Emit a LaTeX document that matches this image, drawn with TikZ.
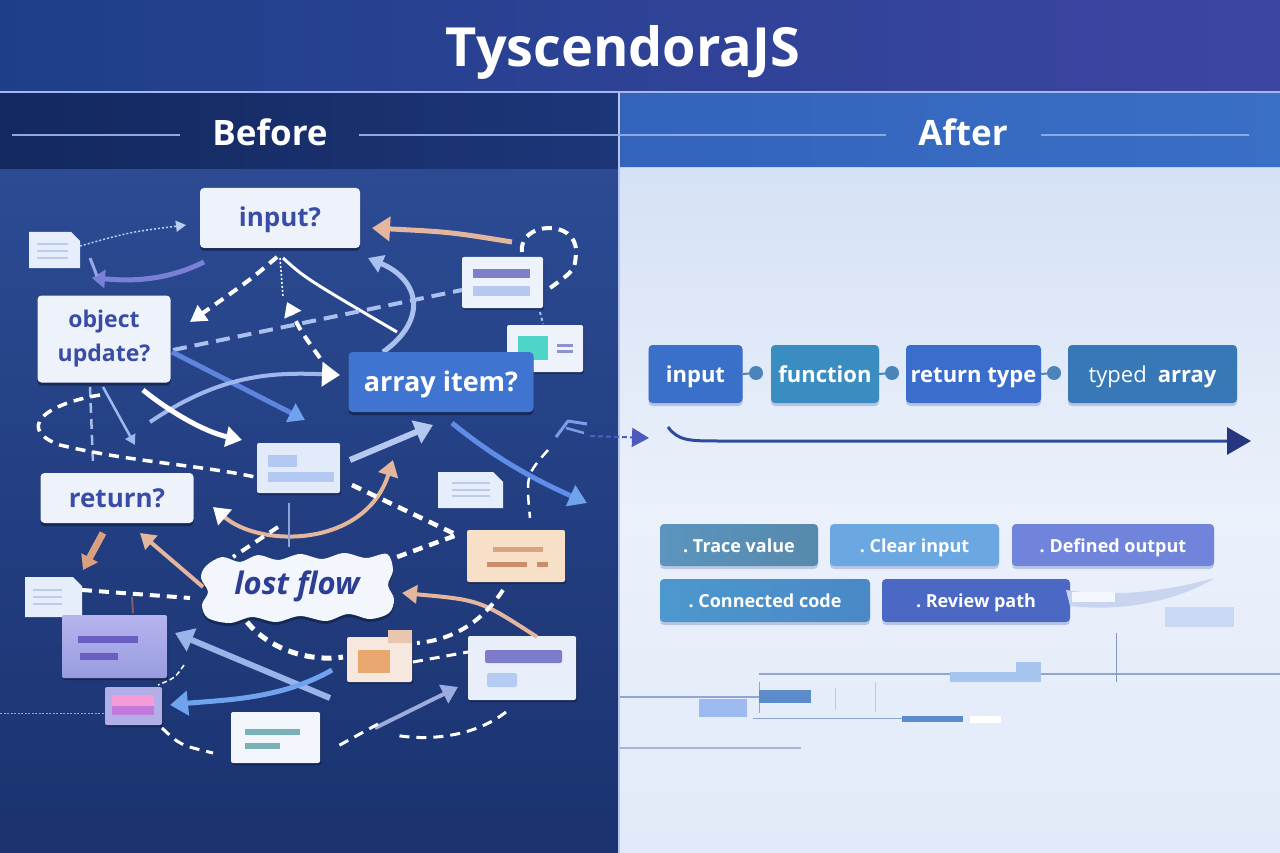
\documentclass[tikz,border=0pt]{standalone}
\usepackage{fontspec}
\setmainfont{Open Sans}
\usetikzlibrary{arrows.meta,shadows}
\definecolor{hdrL}{HTML}{1E3F88}
\definecolor{hdrR}{HTML}{3D45A3}
\definecolor{bandL}{HTML}{13285F}
\definecolor{bandR}{HTML}{1C3678}
\definecolor{leftT}{HTML}{2C4B93}
\definecolor{leftB}{HTML}{1A326F}
\definecolor{rbandL}{HTML}{3363BA}
\definecolor{rbandR}{HTML}{3A6FC6}
\definecolor{rightT}{HTML}{D5E1F5}
\definecolor{rightM}{HTML}{EBF1FB}
\definecolor{rightB}{HTML}{E2EAF9}
\definecolor{rulec}{HTML}{A3B8EF}
\definecolor{bandline}{HTML}{8EA8E4}
\definecolor{boxfill}{HTML}{EEF2FB}
\definecolor{cloudfill}{HTML}{F3F6FD}
\definecolor{boxtext}{HTML}{3A4DA6}
\definecolor{arrblue}{HTML}{3F74D0}
\definecolor{peach}{HTML}{E5B69E}
\definecolor{lblue}{HTML}{AAC0EE}
\definecolor{mblue}{HTML}{5E84DE}
\definecolor{sky}{HTML}{6FA3EE}
\definecolor{purp}{HTML}{7A80D8}
\definecolor{flowtext}{HTML}{2C3E96}
\definecolor{docfill}{HTML}{E6EDFB}
\definecolor{docline}{HTML}{BCCBEB}
\definecolor{dotc}{HTML}{4A84BA}
\definecolor{flowarrow}{HTML}{2F4C9C}
\definecolor{flowhead}{HTML}{26357E}
\definecolor{gline}{HTML}{8FA6D2}
\definecolor{linkc}{HTML}{4F5FC0}
\definecolor{linkh}{HTML}{4B5ABB}
\tikzset{
  qbox/.style={fill=boxfill, rounded corners=4pt, text=boxtext, inner sep=0pt,
    font=\bfseries\fontsize{26}{30}\selectfont, text height=24pt, text depth=6pt,
    drop shadow={opacity=0.35, shadow xshift=0pt, shadow yshift=-3pt, fill=black}},
  card/.style={rounded corners=2pt, inner sep=0pt,
    drop shadow={opacity=0.3, shadow xshift=1pt, shadow yshift=-2pt, fill=black}},
  rbox/.style={rounded corners=4pt, text=white, inner sep=0pt, minimum height=58pt,
    font=\bfseries\fontsize{22}{26}\selectfont, text height=21pt, text depth=4pt,
    drop shadow={opacity=0.25, shadow xshift=0pt, shadow yshift=-3pt, fill=flowarrow}},
  tagbox/.style={rounded corners=4pt, text=white, inner sep=0pt, minimum height=42pt,
    font=\bfseries\fontsize{18}{20}\selectfont, text height=17pt, text depth=3pt,
    drop shadow={opacity=0.25, shadow xshift=0pt, shadow yshift=-3pt, fill=flowarrow}},
  joint/.style={circle, fill=dotc, minimum size=14pt, inner sep=0pt},
  wdash/.style={draw=white, line width=#1, dash pattern=on 10pt off 7pt},
  wdash/.default=4pt,
  tipS/.style={-{Triangle[length=10pt,width=11pt]}},
  tipM/.style={-{Triangle[length=15pt,width=18pt]}},
  tipL/.style={-{Triangle[length=18pt,width=24pt]}},
}
\begin{document}
\begin{tikzpicture}[x=1pt,y=-1pt]
\useasboundingbox (0,0) rectangle (1280,853);
% ---------- backgrounds ----------
\shade[left color=hdrL, right color=hdrR] (0,0) rectangle (1280,92);
\shade[left color=bandL, right color=bandR] (0,93) rectangle (619,170);
\shade[left color=rbandL, right color=rbandR] (619,93) rectangle (1280,168);
\shade[top color=leftT, bottom color=leftB] (0,170) rectangle (619,853);
\shade[top color=rightT, bottom color=rightB, middle color=rightM] (619,168) rectangle (1280,853);
\draw[line width=2pt, rulec] (0,92) -- (1280,92);
\draw[line width=1pt, rulec!70] (619,168) -- (1280,168);
\draw[line width=1.5pt, rulec!80] (619,93) -- (619,853);
% ---------- header texts ----------
\node[anchor=base, text=white, font=\bfseries\fontsize{54}{60}\selectfont] (title) at (623,67) {TyscendoraJS};
\node[anchor=base, text=white, font=\bfseries\fontsize{35}{40}\selectfont] (before) at (270,146) {Before};
\node[anchor=base, text=white, font=\bfseries\fontsize{35}{40}\selectfont] (after) at (963,146) {After};
\draw[line width=2pt, bandline] (12,135) -- (180,135);
\draw[line width=2pt, bandline] (359,135) -- (886,135);
\draw[line width=2pt, bandline] (1041,135) -- (1249,135);

% ---------- left: small cards and docs ----------
\fill[docfill] (29,232) -- (71,232) -- (80,241) -- (80,268) -- (29,268) -- cycle;
\coordinate (d1) at (54,250);
\foreach \yy in {244,251,258} \draw[docline, line width=2pt] (37,\yy) -- (68,\yy);

\node[card, fill=boxfill, minimum width=81pt, minimum height=51pt] (c2) at (502.5,282.5) {};
\fill[color={rgb,255:red,123;green,128;blue,200}] (473,269) rectangle (530,278);
\fill[color={rgb,255:red,181;green,200;blue,240}] (473,286) rectangle (530,296);

\node[card, fill=boxfill, minimum width=76pt, minimum height=47pt] (c3) at (545,348.5) {};
\fill[color={rgb,255:red,79;green,212;blue,200}] (518,336) rectangle (548,360);
\fill[color={rgb,255:red,141;green,146;blue,210}] (557,344) rectangle (573,347);
\fill[color={rgb,255:red,141;green,146;blue,210}] (557,350) rectangle (573,353);

\node[card, fill={rgb,255:red,227;green,234;blue,250}, minimum width=83pt, minimum height=50pt] (c4) at (298.5,468) {};
\fill[color={rgb,255:red,179;green,201;blue,242}] (268,455) rectangle (297,467);
\fill[color={rgb,255:red,179;green,201;blue,242}] (268,472) rectangle (334,482);

\fill[docfill] (438,472) -- (493,472) -- (503,482) -- (503,508) -- (438,508) -- cycle;
\coordinate (d5) at (470,490);
\foreach \yy in {483,490,496} \draw[docline, line width=2pt] (452,\yy) -- (490,\yy);

\node[card, fill={rgb,255:red,248;green,223;blue,199}, minimum width=98pt, minimum height=52pt] (c6) at (516,556) {};
\fill[color={rgb,255:red,217;green,164;blue,126}] (493,547) rectangle (543,552);
\fill[color={rgb,255:red,201;green,142;blue,104}] (487,562) rectangle (527,567);
\fill[color={rgb,255:red,201;green,142;blue,104}] (537,562) rectangle (548,567);

\fill[docfill] (25,577) -- (73,577) -- (82,586) -- (82,617) -- (25,617) -- cycle;
\coordinate (d7) at (53,597);
\foreach \yy in {590,597,604} \draw[docline, line width=2pt] (33,\yy) -- (62,\yy);

\node[card, top color={rgb,255:red,182;green,180;blue,238}, bottom color={rgb,255:red,152;green,156;blue,224}, minimum width=105pt, minimum height=63pt] (c8) at (114.5,646.5) {};
\fill[color={rgb,255:red,106;green,94;blue,194}] (78,636) rectangle (138,643);
\fill[color={rgb,255:red,106;green,94;blue,194}] (80,653) rectangle (118,660);

\node[card, fill={rgb,255:red,177;green,174;blue,232}, minimum width=57pt, minimum height=38pt] (c9) at (133.5,706) {};
\fill[color={rgb,255:red,245;green,155;blue,216}] (112,695) rectangle (154,706);
\fill[color={rgb,255:red,194;green,123;blue,218}] (112,706) rectangle (154,715);

\node[card, fill={rgb,255:red,246;green,232;blue,222}, minimum width=65pt, minimum height=45pt] (c10) at (379.5,659.5) {};
\fill[color={rgb,255:red,232;green,168;blue,112}] (358,650) rectangle (390,673);
\fill[color={rgb,255:red,232;green,198;blue,176}] (388,630) rectangle (412,643);

\node[card, fill={rgb,255:red,232;green,238;blue,250}, minimum width=108pt, minimum height=64pt] (c11) at (522,668) {};
\fill[rounded corners=2pt, color={rgb,255:red,124;green,124;blue,203}] (485,650) rectangle (562,663);
\fill[rounded corners=2pt, color={rgb,255:red,180;green,204;blue,244}] (487,673) rectangle (517,687);

\node[card, fill={rgb,255:red,242;green,245;blue,252}, minimum width=89pt, minimum height=51pt] (c12) at (275.5,737.5) {};
\fill[color={rgb,255:red,122;green,176;blue,184}] (245,729) rectangle (300,735);
\fill[color={rgb,255:red,122;green,176;blue,184}] (245,743) rectangle (280,749);

% ---------- left: connector end points ----------
\path (80,246) coordinate (p1) (186,225) coordinate (p2)
      (204,262) coordinate (p3) (92,278) coordinate (p4)
      (90,258) coordinate (p5) (97,276) coordinate (p6)
      (277,257) coordinate (p7) (190,322) coordinate (p8)
      (280,258) coordinate (p9) (283,297) coordinate (p10)
      (320,358) coordinate (p11) (287,302) coordinate (p12)
      (283,258) coordinate (p13) (397,332) coordinate (p14)
      (173,350) coordinate (p15) (462,290) coordinate (p16)
      (512,242) coordinate (p17) (372,228) coordinate (p18)
      (522,252) coordinate (p19) (550,288) coordinate (p20)
      (383,352) coordinate (p21) (368,258) coordinate (p22)
      (172,352) coordinate (p23) (305,420) coordinate (p24)
      (150,422) coordinate (p25) (340,375) coordinate (p26)
      (143,390) coordinate (p27) (242,440) coordinate (p28)
      (103,387) coordinate (p29) (135,445) coordinate (p30)
      (90,387) coordinate (p31) (93,463) coordinate (p32)
      (100,395) coordinate (p33) (255,477) coordinate (p34)
      (350,460) coordinate (p35) (433,425) coordinate (p36)
      (452,423) coordinate (p37) (587,503) coordinate (p38)
      (548,450) coordinate (p39) (530,518) coordinate (p40)
      (213,507) coordinate (p41) (393,460) coordinate (p42)
      (289,503) coordinate (p43) (289,547) coordinate (p44)
      (278,527) coordinate (p45) (233,557) coordinate (p46)
      (352,485) coordinate (p47) (457,535) coordinate (p48) (397,557) coordinate (p49)
      (203,587) coordinate (p50) (140,533) coordinate (p51)
      (103,533) coordinate (p52) (83,570) coordinate (p53)
      (82,590) coordinate (p54) (190,598) coordinate (p55)
      (537,637) coordinate (p56) (402,593) coordinate (p57)
      (503,590) coordinate (p58) (417,643) coordinate (p59)
      (247,622) coordinate (p60) (343,657) coordinate (p61)
      (413,662) coordinate (p62) (468,652) coordinate (p63)
      (330,698) coordinate (p64) (175,633) coordinate (p65)
      (332,670) coordinate (p66) (170,705) coordinate (p67)
      (375,728) coordinate (p68) (458,687) coordinate (p69)
      (162,728) coordinate (p70) (213,753) coordinate (p71)
      (184,665) coordinate (p72) (158,685) coordinate (p73)
      (506,712) coordinate (p74) (395,735) coordinate (p75)
      (378,724) coordinate (p76) (338,746) coordinate (p77)
      (0,713) coordinate (p78) (105,713) coordinate (p79)
      (540,312) coordinate (p80) (543,324) coordinate (p81)
      (590,436) coordinate (p82) (649,438) coordinate (p83);

% ---------- left: connectors ----------
\draw[draw=lblue!80!white, line width=1.5pt, dash pattern=on 2pt off 2pt, tipS] (p1) .. controls (130,232) .. (p2);
\draw[draw=purp, line width=5pt, -{Triangle[length=13pt,width=18pt]}] (p3) .. controls (160,284) and (120,280) .. (p4);
\draw[draw={rgb,255:red,154;green,166;blue,232}, line width=3pt] (p5) -- (p6);
\draw[wdash, -{Triangle[length=16pt,width=18pt,color=white]}] (p7) .. controls (250,280) .. (p8);
\draw[draw=white, line width=1.5pt, dash pattern=on 2pt off 2pt] (p9) -- (p10);
\draw[wdash, -{Triangle[length=14pt,width=18pt,color=white]}] (p11) .. controls (300,330) .. (p12);
\draw[draw=white, line width=3pt] (p13) .. controls (305,278) .. (p14);
\draw[draw=lblue, line width=4pt, dash pattern=on 14pt off 8pt] (p15) -- (p16);
\draw[draw=peach, line width=5pt, -{Triangle[length=18pt,width=24pt]}] (p17) .. controls (450,232) .. (p18);
\draw[wdash] (p19) .. controls (518,222) and (577,218) .. (576,252) .. controls (575,270) .. (p20);
\draw[draw=lblue, line width=5pt, tipM] (p21) .. controls (428,320) and (420,280) .. (p22);
\draw[draw=mblue, line width=5pt, -{Triangle[length=16pt,width=20pt,color=sky]}] (p23) -- (p24);
\draw[draw=lblue!85!mblue, line width=4pt, -{Triangle[length=18pt,width=24pt,color=white]}] (p25) .. controls (220,375) and (270,372) .. (p26);
\draw[draw=white, line width=5pt, -{Triangle[length=16pt,width=20pt,color=white]}] (p27) .. controls (170,412) and (205,432) .. (p28);
\draw[draw={rgb,255:red,159;green,184;blue,238}, line width=2.5pt, tipS] (p29) -- (p30);
\draw[draw={rgb,255:red,168;green,189;blue,232}, line width=2.5pt, dash pattern=on 10pt off 6pt] (p31) -- (p32);
\draw[wdash=3.5pt] (p33) .. controls (40,405) and (18,430) .. (60,445) .. controls (130,462) and (200,465) .. (p34);
\draw[draw={rgb,255:red,180;green,200;blue,240}, line width=6pt, -{Triangle[length=18pt,width=24pt]}] (p35) -- (p36);
\draw[draw={rgb,255:red,94;green,140;blue,230}, line width=5pt, -{Triangle[length=18pt,width=22pt,color=sky]}] (p37) .. controls (500,462) and (540,482) .. (p38);
\draw[wdash=2.5pt] (p39) .. controls (526,475) .. (p40);
\draw[draw=peach, line width=4pt, {Triangle[length=16pt,width=20pt,color=white]}-{Triangle[length=16pt,width=20pt]}] (p41) .. controls (260,548) and (365,548) .. (p42);
\draw[draw={rgb,255:red,142;green,164;blue,216}, line width=2pt] (p43) -- (p44);
\draw[wdash] (p45) -- (p46);
\draw[wdash=4.5pt] (p47) -- (p48) -- (p49);

% lost flow cloud
\fill[cloudfill, drop shadow={opacity=0.3, shadow xshift=0pt, shadow yshift=-3pt, fill=black}]
  plot[smooth cycle, tension=0.55] coordinates {(206,566) (222,557) (240,562) (258,555) (278,560) (300,554) (322,559) (344,553) (366,558) (387,554) (393,570) (388,585) (394,599) (389,613) (370,619) (348,614) (326,621) (300,616) (276,622) (252,617) (230,623) (208,618) (202,605) (208,592) (201,578)};
\node[text=flowtext, font=\bfseries\itshape\fontsize{31}{34}\selectfont] (lost) at (297,586) {lost flow};

\draw[draw=peach, line width=4pt, tipM] (p50) -- (p51);
\draw[draw={rgb,255:red,216;green,160;blue,128}, line width=7pt, -{Triangle[length=14pt,width=18pt]}] (p52) -- (p53);
\draw[wdash] (p54) -- (p55);
\draw[draw={rgb,255:red,138;green,90;blue,106}, line width=2pt] (132,597) -- (133,613);
\draw[draw=peach, line width=4pt, tipM] (p56) .. controls (480,600) .. (p57);
\draw[wdash] (p58) .. controls (480,625) and (450,640) .. (p59);
\draw[wdash=5pt] (p60) .. controls (270,650) and (310,662) .. (p61);
\draw[wdash=3pt] (p62) -- (p63);
\draw[draw={rgb,255:red,154;green,180;blue,234}, line width=6pt, -{Triangle[length=18pt,width=24pt]}] (p64) -- (p65);
\draw[draw=sky, line width=5pt, -{Triangle[length=18pt,width=24pt]}] (p66) .. controls (280,700) and (220,700) .. (p67);
\draw[draw={rgb,255:red,156;green,172;blue,222}, line width=4pt, -{Triangle[length=16pt,width=20pt]}] (p68) -- (p69);
\draw[wdash=3pt] (p70) .. controls (180,745) .. (p71);
\draw[draw=white, line width=1.5pt, dash pattern=on 5pt off 3pt] (p72) .. controls (175,678) .. (p73);
\draw[wdash=3pt] (p74) .. controls (470,740) and (420,740) .. (p75);
\draw[wdash=3pt] (p76) -- (p77);
\draw[draw={rgb,255:red,142;green,168;blue,224}, line width=1pt, dash pattern=on 2pt off 1.5pt] (p78) -- (p79);
\draw[draw=lblue, line width=2pt, dash pattern=on 3pt off 3pt] (p80) -- (p81);

% scribble and link to the right side
\draw[draw={rgb,255:red,124;green,156;blue,235}, line width=3pt, line join=round] (556,437) -- (568,421) -- (587,424);
\draw[draw={rgb,255:red,124;green,156;blue,235}, line width=2.5pt] (566,428) -- (584,433);
\draw[draw=linkc, line width=2pt, dash pattern=on 5pt off 3pt, -{Triangle[length=17pt,width=19pt,color=linkh]}] (p82) -- (p83);

% ---------- left: question boxes ----------
\node[qbox, minimum width=160pt, minimum height=60pt] (inp) at (280,218) {input?};
\node[qbox, text height=, text depth=, minimum width=133pt, minimum height=87pt, align=center, font=\bfseries\fontsize{23}{34}\selectfont] (obj) at (104,339) {object\\update?};
\node[qbox, fill=arrblue, text=white, minimum width=185pt, minimum height=60pt, font=\bfseries\fontsize{27}{30}\selectfont] (arr) at (441,382) {array item?};
\node[qbox, minimum width=153pt, minimum height=50pt] (ret) at (117,498) {return?};

% ---------- right: flow ----------
\node[rbox, fill={rgb,255:red,59;green,112;blue,202}, minimum width=94pt] (rin) at (695.5,374) {input};
\node[rbox, fill={rgb,255:red,58;green,141;blue,193}, minimum width=108pt] (rfn) at (825,374) {function};
\node[rbox, fill={rgb,255:red,58;green,109;blue,204}, minimum width=135pt] (rrt) at (973.5,374) {return type};
\node[rbox, fill={rgb,255:red,57;green,120;blue,183}, minimum width=169pt] (rta) at (1152.5,374) {{\mdseries typed}\enspace array};
\node[joint] (k1) at (756,373) {};
\node[joint] (k2) at (892,373) {};
\node[joint] (k3) at (1054,373) {};
\draw[dotc, line width=2pt] (rin.east) -- (k1); \draw[dotc, line width=2pt] (rfn.east) -- (k2); \draw[dotc, line width=2pt] (rrt.east) -- (k3);

\coordinate (la) at (668,427);
\coordinate (lb) at (1251,441);
\draw[draw=flowarrow, line width=3pt, -{Triangle[length=24pt,width=27pt,color=flowhead]}] (la) .. controls (678,441) and (690,441) .. (720,441) -- (lb);

% tags
\node[tagbox, left color={rgb,255:red,92;green,148;blue,190}, right color={rgb,255:red,86;green,138;blue,172}, minimum width=158pt] (t1) at (739,545) {.\ Trace value};
\node[tagbox, fill={rgb,255:red,107;green,168;blue,226}, minimum width=169pt] (t2) at (914.5,545) {.\ Clear input};
\node[tagbox, fill={rgb,255:red,111;green,132;blue,218}, minimum width=202pt] (t3) at (1113,545) {.\ Defined output};
\node[tagbox, left color={rgb,255:red,76;green,152;blue,206}, right color={rgb,255:red,74;green,136;blue,198}, minimum width=210pt, minimum height=43pt] (t4) at (765,600.5) {.\ Connected code};
\node[tagbox, fill={rgb,255:red,74;green,104;blue,196}, minimum width=188pt, minimum height=43pt] (t5) at (976,600.5) {.\ Review path};

% right: decorative bars
\fill[color={rgb,255:red,201;green,213;blue,239}] (1066,590) .. controls (1120,598) and (1170,590) .. (1215,578) .. controls (1175,602) and (1120,612) .. (1070,606) -- cycle;
\fill[color={rgb,255:red,244;green,247;blue,253}] (1072,592) rectangle (1115,602);
\fill[color={rgb,255:red,201;green,216;blue,244}] (1165,607) rectangle (1234,627);
\draw[gline, line width=1.2pt] (620,697) -- (759,697);
\draw[gline, line width=1.2pt] (759,674) -- (1280,674);
\draw[gline, line width=1pt] (759,682) -- (759,713);
\draw[gline!60, line width=1pt] (835,688) -- (835,710);
\draw[gline!60, line width=1pt] (875,682) -- (875,712);
\draw[color={rgb,255:red,127;green,149;blue,196}, line width=1pt] (1116,633) -- (1116,682);
\fill[color={rgb,255:red,167;green,196;blue,239}] (950,672) rectangle (1041,682);
\fill[color={rgb,255:red,167;green,196;blue,239}] (1016,662) rectangle (1041,672);
\fill[color={rgb,255:red,92;green,140;blue,201}] (759,690) rectangle (811,703);
\fill[color={rgb,255:red,157;green,187;blue,240}] (699,699) rectangle (747,717);
\draw[gline, line width=1pt] (753,718) -- (902,718);
\fill[color={rgb,255:red,92;green,139;blue,208}] (902,716) rectangle (963,722);
\fill[white] (970,716) rectangle (1001,723);
\draw[color={rgb,255:red,168;green,182;blue,210}, line width=2pt] (620,748) -- (801,748);
\end{tikzpicture}
\end{document}
